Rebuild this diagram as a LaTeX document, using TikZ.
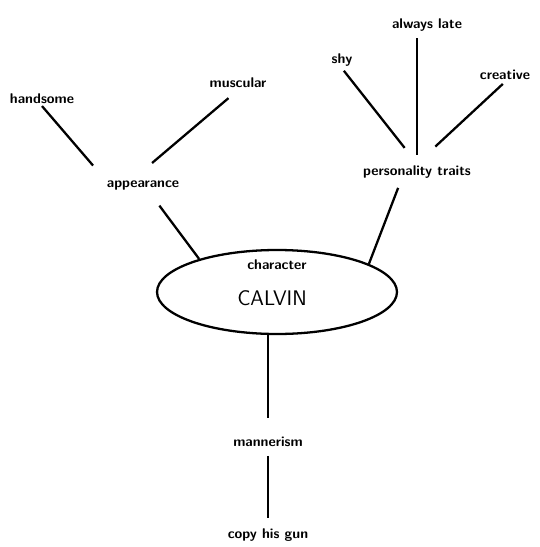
\documentclass[tikz,border=0pt]{standalone}
\usepackage{tikz}
\usetikzlibrary{shapes.geometric,calc}

\begin{document}
\begin{tikzpicture}[x=0.02cm, y=-0.02cm,
    word/.style={font=\sffamily\bfseries\footnotesize, inner sep=1pt},
    bigword/.style={font=\sffamily\large, inner sep=1pt},
    oval/.style={draw, ellipse, line width=1.3pt, minimum width=4.8cm, minimum height=1.68cm},
    link/.style={line width=1.3pt},
]
\useasboundingbox (0,0) rectangle (539,547);

% Centre
\node[oval] (calvin) at (277,292) {};
\node[word] (chartext) at (277,265) {character};
\node[bigword] (calvintext) at (272,298) {CALVIN};

% Appearance branch
\node[word] (handsome) at (42,99) {handsome};
\node[word] (muscular) at (238,83) {muscular};
\node[word] (appearance) at (143,186) {appearance};

% Personality branch
\node[word] (shy) at (342,60) {shy};
\node[word] (late) at (427,25) {always late};
\node[word] (creative) at (505,75) {creative};
\node[word] (traits) at (417,172) {personality traits};

% Mannerism branch
\node[word] (mannerism) at (268,442) {mannerism};
\node[word] (copy) at (268,535) {copy his gun};

% Links
\draw[link, shorten >=0.36cm] (handsome.south) -- (appearance.north west);
\draw[link, shorten <=0.25cm, shorten >=0.5cm] (muscular.south) -- ($(appearance.north)+(-10,0)$);
\draw[link, shorten <=0.32cm] (appearance.-45) -- (calvin.157);
\draw[link, shorten <=0.06cm, shorten >=0.4cm] (shy.south) -- (traits.north);
\draw[link, shorten <=0.1cm, shorten >=0.18cm] (late.south -| traits.north) -- (traits.north);
\draw[link, shorten <=0.06cm, shorten >=0.5cm] (creative.south) -- (traits.north);
\draw[link, shorten <=0.16cm] ($(traits.south)+(-16,0)$) -- (calvin.17);
\draw[link, shorten >=0.34cm] (calvin.south -| mannerism.north) -- (mannerism.north);
\draw[link, shorten <=0.14cm, shorten >=0.18cm] (mannerism.south) -- (copy.north);

\end{tikzpicture}
\end{document}
